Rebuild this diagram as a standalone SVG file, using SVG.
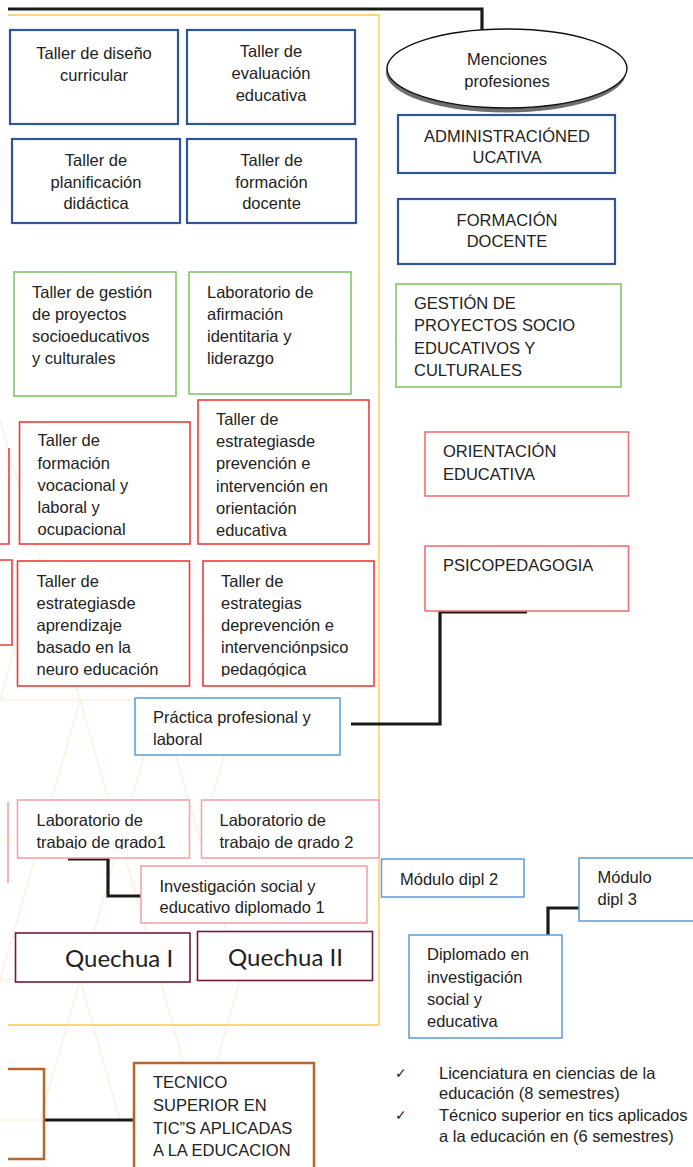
<svg xmlns="http://www.w3.org/2000/svg" width="693" height="1167" viewBox="0 0 693 1167">
<style>
text{font-family:"Liberation Sans",Arial,sans-serif;font-size:16.5px;fill:#222}
.c{text-anchor:middle}
.q{font-family:Lato,"Open Sans",sans-serif;font-size:24px}
.chk{font-family:"DejaVu Sans",sans-serif;font-size:14px}
.blue{fill:#fff;stroke:#2f5597;stroke-width:2.2}
.green{fill:#fff;stroke:#86c46c;stroke-width:1.6}
.red{fill:#fff;stroke:#ee3b3b;stroke-width:1.6}
.red2{fill:#fff;stroke:#f07272;stroke-width:1.6}
.pink{fill:#fff;stroke:#f4a3a8;stroke-width:1.6}
.lb{fill:#fff;stroke:#5b9bd5;stroke-width:1.5}
.mar{fill:#fff;stroke:#6e1c43;stroke-width:1.6}
.brown{fill:#fff;stroke:#b9652e;stroke-width:2.5}
.conn{fill:none;stroke:#1a1a1a;stroke-width:3.2}
.bg{fill:none;stroke:#fcefd4;stroke-width:1.2}
</style>
<defs>
<clipPath id="clipVoc"><rect x="19" y="422" width="172" height="114"/></clipPath>
<clipPath id="clipPrev"><rect x="198" y="400" width="172" height="142"/></clipPath>
<clipPath id="clipApr"><rect x="17" y="561" width="173" height="123"/></clipPath>
<clipPath id="clipDep"><rect x="203" y="561" width="171" height="115.5"/></clipPath>
<clipPath id="clipG1"><rect x="17" y="800" width="173" height="49"/></clipPath>
<clipPath id="clipG2"><rect x="201" y="800" width="178" height="49"/></clipPath>
</defs>
<rect width="693" height="1167" fill="#fff"/>
<g id="background">
<path class="bg" d="M0 420 L40 560 L0 700 M40 560 L80 700 L120 840 M0 700 L80 700 L160 700 M80 700 L40 840 L0 980 M120 840 L40 840 L0 840 M120 840 L80 980 L40 1120 M120 840 L160 980 L200 1120 M160 700 L120 840 M160 700 L200 840 L240 980 M0 980 L240 980 M80 980 L120 1120 M0 1120 L240 1120 M200 840 L240 700 M240 980 L200 1120"/>
</g>
<g id="container">
<path d="M8 15 H379 V1025 H8" fill="none" stroke="#fdd67a" stroke-width="1.8"/>
</g>
<g id="connectors">
<path class="conn" d="M8 9 H482 V42"/>
<path class="conn" d="M351 724 H440 V612 H527"/>
<path class="conn" d="M68 859 H108 V896 H141"/>
<path class="conn" d="M585 908 H548 V937 H510"/>
<path class="conn" d="M44 1120 H135"/>
</g>
<g id="partial-left">
<path d="M0 544 H9 V448" fill="none" stroke="#ee3b3b" stroke-width="1.6"/>
<path d="M0 560 H12 V645 H0" fill="none" stroke="#ee3b3b" stroke-width="1.6"/>
<path d="M8 802 V883" fill="none" stroke="#f4a3a8" stroke-width="1.6"/>
<path d="M8 1069 H44 V1159 H8" fill="none" stroke="#b9652e" stroke-width="2.5"/>
</g>
<g id="n-diseno">
<rect class="blue" x="10" y="30" width="168" height="94"/>
<text class="c" x="94" y="59">Taller de diseño</text>
<text class="c" x="94" y="81">curricular</text>
</g>
<g id="n-evaluacion">
<rect class="blue" x="187" y="30" width="168" height="94"/>
<text class="c" x="271" y="57">Taller de</text>
<text class="c" x="271" y="79">evaluación</text>
<text class="c" x="271" y="101">educativa</text>
</g>
<g id="n-planificacion">
<rect class="blue" x="12" y="139" width="168" height="84"/>
<text class="c" x="96" y="166">Taller de</text>
<text class="c" x="96" y="188">planificación</text>
<text class="c" x="96" y="209">didáctica</text>
</g>
<g id="n-formacion">
<rect class="blue" x="187" y="139" width="169" height="84"/>
<text class="c" x="271.5" y="166">Taller de</text>
<text class="c" x="271.5" y="188">formación</text>
<text class="c" x="271.5" y="209">docente</text>
</g>
<g id="n-menciones">
<ellipse cx="506" cy="72.5" rx="120" ry="40" fill="#6e6e6e"/>
<ellipse cx="507" cy="68.5" rx="120" ry="39.5" fill="#fff" stroke="#111" stroke-width="1.4"/>
<text class="c" x="507" y="65">Menciones</text>
<text class="c" x="507" y="87">profesiones</text>
</g>
<g id="n-admin">
<rect class="blue" x="398" y="115" width="217" height="58"/>
<text class="c" x="507" y="141.5">ADMINISTRACIÓNED</text>
<text class="c" x="507" y="163">UCATIVA</text>
</g>
<g id="n-formdoc">
<rect class="blue" x="398" y="199" width="217" height="65"/>
<text class="c" x="507" y="225.5">FORMACIÓN</text>
<text class="c" x="507" y="247">DOCENTE</text>
</g>
<g id="n-gestion">
<rect class="green" x="14" y="272" width="162" height="124"/>
<text x="32" y="297.5">Taller de gestión</text>
<text x="32" y="319.5">de proyectos</text>
<text x="32" y="341.5">socioeducativos</text>
<text x="32" y="363.5">y culturales</text>
</g>
<g id="n-afirmacion">
<rect class="green" x="189" y="272" width="162" height="122"/>
<text x="207" y="297.5">Laboratorio de</text>
<text x="207" y="319.5">afirmación</text>
<text x="207" y="341.5">identitaria y</text>
<text x="207" y="363.5">liderazgo</text>
</g>
<g id="n-gestion-mencion">
<rect class="green" x="396" y="284" width="225" height="103"/>
<text x="414" y="309">GESTIÓN DE</text>
<text x="414" y="331">PROYECTOS SOCIO</text>
<text x="414" y="353.5">EDUCATIVOS Y</text>
<text x="414" y="375.5">CULTURALES</text>
</g>
<g id="n-vocacional">
<rect class="red" x="19.5" y="422" width="170.5" height="122"/>
<g clip-path="url(#clipVoc)">
<text x="37.5" y="446">Taller de</text>
<text x="37.5" y="468.5">formación</text>
<text x="37.5" y="490.5">vocacional y</text>
<text x="37.5" y="512.5">laboral y</text>
<text x="37.5" y="535">ocupacional</text>
</g>
</g>
<g id="n-prevencion">
<rect class="red" x="198" y="400" width="171" height="144"/>
<g clip-path="url(#clipPrev)">
<text x="216" y="425">Taller de</text>
<text x="216" y="447">estrategiasde</text>
<text x="216" y="469">prevención e</text>
<text x="216" y="491.5">intervención en</text>
<text x="216" y="513.5">orientación</text>
<text x="216" y="535.5">educativa</text>
</g>
</g>
<g id="n-orientacion">
<rect class="red2" x="425" y="432" width="203.5" height="64"/>
<text x="443" y="457">ORIENTACIÓN</text>
<text x="443" y="480">EDUCATIVA</text>
</g>
<g id="n-psico">
<rect class="red2" x="425" y="546" width="203.5" height="65"/>
<text x="443" y="571">PSICOPEDAGOGIA</text>
</g>
<g id="n-aprendizaje">
<rect class="red" x="17.5" y="561" width="172" height="125"/>
<g clip-path="url(#clipApr)">
<text x="36.5" y="586.5">Taller de</text>
<text x="36.5" y="608.5">estrategiasde</text>
<text x="36.5" y="630.5">aprendizaje</text>
<text x="36.5" y="652.5">basado en la</text>
<text x="36.5" y="674.5">neuro educación</text>
</g>
</g>
<g id="n-deprevencion">
<rect class="red" x="203" y="561" width="171" height="125"/>
<g clip-path="url(#clipDep)">
<text x="221" y="586.5">Taller de</text>
<text x="221" y="608.5">estrategias</text>
<text x="221" y="630.5">deprevención e</text>
<text x="221" y="652.5">intervenciónpsico</text>
<text x="221" y="674.5">pedagógica</text>
</g>
</g>
<g id="n-practica">
<rect class="lb" x="135" y="698" width="205" height="57"/>
<text x="153" y="723">Práctica profesional y</text>
<text x="153" y="745">laboral</text>
</g>
<g id="n-grado1">
<rect class="pink" x="17.5" y="800" width="172" height="58"/>
<g clip-path="url(#clipG1)">
<text x="36.5" y="826">Laboratorio de</text>
<text x="36.5" y="847.5">trabajo de grado1</text>
</g>
</g>
<g id="n-grado2">
<rect class="pink" x="201.5" y="800" width="177.5" height="58"/>
<g clip-path="url(#clipG2)">
<text x="219.5" y="826">Laboratorio de</text>
<text x="219.5" y="847.5">trabajo de grado 2</text>
</g>
</g>
<g id="n-investigacion">
<rect class="pink" x="141" y="866" width="226" height="57"/>
<text x="159.5" y="891.5">Investigación social y</text>
<text x="159.5" y="913">educativo diplomado 1</text>
</g>
<g id="n-quechua1">
<rect class="mar" x="15.5" y="933" width="174.5" height="49"/>
<text class="q" x="65" y="967">Quechua I</text>
</g>
<g id="n-quechua2">
<rect class="mar" x="197.5" y="931.5" width="175" height="49"/>
<text class="q c" x="285.5" y="966">Quechua II</text>
</g>
<g id="n-modulo2">
<rect class="lb" x="381.5" y="859" width="142.5" height="38"/>
<text x="400" y="885">Módulo dipl 2</text>
</g>
<g id="n-modulo3">
<rect class="lb" x="579" y="858" width="120" height="63"/>
<text x="597.5" y="883">Módulo</text>
<text x="597.5" y="905">dipl 3</text>
</g>
<g id="n-diplomado">
<rect class="lb" x="409" y="935" width="153" height="103"/>
<text x="427" y="960">Diplomado en</text>
<text x="427" y="982.5">investigación</text>
<text x="427" y="1004.5">social y</text>
<text x="427" y="1026.5">educativa</text>
</g>
<g id="n-tecnico">
<rect class="brown" x="134" y="1063" width="180" height="120"/>
<text x="153" y="1088">TECNICO</text>
<text x="153" y="1111">SUPERIOR EN</text>
<text x="153" y="1133.5">TIC”S APLICADAS</text>
<text x="153" y="1155.5">A LA EDUCACION</text>
</g>
<g id="legend">
<text class="chk" x="395" y="1078">✓</text>
<text x="439" y="1079">Licenciatura en ciencias de la</text>
<text x="439" y="1099">educación (8 semestres)</text>
<text class="chk" x="395" y="1120">✓</text>
<text x="439" y="1121">Técnico superior en tics aplicados</text>
<text x="439" y="1141.5">a la educación en (6 semestres)</text>
</g>
</svg>
